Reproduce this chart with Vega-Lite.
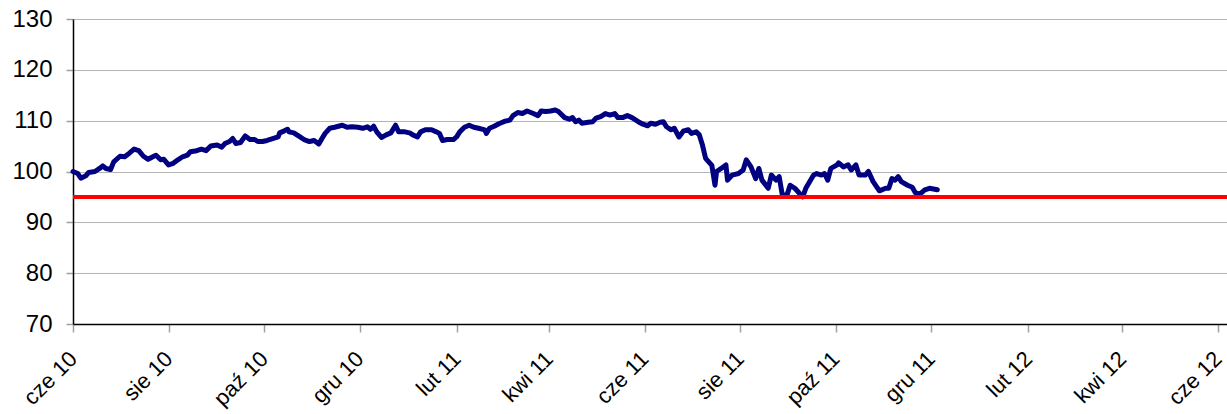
{
  "$schema": "https://vega.github.io/schema/vega-lite/v6.json",
  "autosize": "none",
  "width": 1154,
  "height": 305,
  "padding": {"left": 73, "top": 19, "right": 0, "bottom": 90},
  "background": "white",
  "config": {
    "view": {"stroke": null},
    "axis": {"labelFont": "Liberation Sans", "labelColor": "#000000", "titleFont": "Liberation Sans"}
  },
  "data": {"values": [
    {"date": "2010-06-01", "value": 100.0},
    {"date": "2010-06-04", "value": 99.6},
    {"date": "2010-06-06", "value": 98.7},
    {"date": "2010-06-09", "value": 99.1},
    {"date": "2010-06-11", "value": 99.8},
    {"date": "2010-06-15", "value": 100.0},
    {"date": "2010-06-18", "value": 100.6},
    {"date": "2010-06-20", "value": 101.1},
    {"date": "2010-06-22", "value": 100.6},
    {"date": "2010-06-25", "value": 100.4},
    {"date": "2010-06-27", "value": 101.9},
    {"date": "2010-07-01", "value": 103.0},
    {"date": "2010-07-04", "value": 102.9},
    {"date": "2010-07-07", "value": 103.6},
    {"date": "2010-07-10", "value": 104.4},
    {"date": "2010-07-13", "value": 104.1},
    {"date": "2010-07-16", "value": 103.0},
    {"date": "2010-07-19", "value": 102.4},
    {"date": "2010-07-22", "value": 102.9},
    {"date": "2010-07-24", "value": 103.2},
    {"date": "2010-07-27", "value": 102.3},
    {"date": "2010-07-29", "value": 102.4},
    {"date": "2010-08-01", "value": 101.3},
    {"date": "2010-08-04", "value": 101.6},
    {"date": "2010-08-07", "value": 102.3},
    {"date": "2010-08-10", "value": 102.9},
    {"date": "2010-08-13", "value": 103.2},
    {"date": "2010-08-15", "value": 103.9},
    {"date": "2010-08-19", "value": 104.1},
    {"date": "2010-08-22", "value": 104.4},
    {"date": "2010-08-25", "value": 104.1},
    {"date": "2010-08-28", "value": 105.0},
    {"date": "2010-09-01", "value": 105.2},
    {"date": "2010-09-04", "value": 104.8},
    {"date": "2010-09-06", "value": 105.5},
    {"date": "2010-09-09", "value": 105.9},
    {"date": "2010-09-11", "value": 106.5},
    {"date": "2010-09-13", "value": 105.5},
    {"date": "2010-09-16", "value": 105.7},
    {"date": "2010-09-19", "value": 107.0},
    {"date": "2010-09-22", "value": 106.3},
    {"date": "2010-09-25", "value": 106.3},
    {"date": "2010-09-27", "value": 105.9},
    {"date": "2010-09-30", "value": 105.9},
    {"date": "2010-10-03", "value": 106.1},
    {"date": "2010-10-07", "value": 106.5},
    {"date": "2010-10-10", "value": 106.8},
    {"date": "2010-10-11", "value": 107.6},
    {"date": "2010-10-14", "value": 108.0},
    {"date": "2010-10-16", "value": 108.3},
    {"date": "2010-10-17", "value": 107.8},
    {"date": "2010-10-20", "value": 107.6},
    {"date": "2010-10-24", "value": 106.8},
    {"date": "2010-10-27", "value": 106.2},
    {"date": "2010-10-30", "value": 105.9},
    {"date": "2010-11-02", "value": 106.1},
    {"date": "2010-11-05", "value": 105.4},
    {"date": "2010-11-07", "value": 106.5},
    {"date": "2010-11-09", "value": 107.5},
    {"date": "2010-11-12", "value": 108.5},
    {"date": "2010-11-15", "value": 108.7},
    {"date": "2010-11-20", "value": 109.1},
    {"date": "2010-11-23", "value": 108.7},
    {"date": "2010-11-26", "value": 108.8},
    {"date": "2010-11-30", "value": 108.7},
    {"date": "2010-12-03", "value": 108.5},
    {"date": "2010-12-06", "value": 108.8},
    {"date": "2010-12-08", "value": 108.3},
    {"date": "2010-12-10", "value": 108.9},
    {"date": "2010-12-12", "value": 107.8},
    {"date": "2010-12-15", "value": 106.7},
    {"date": "2010-12-18", "value": 107.2},
    {"date": "2010-12-21", "value": 107.6},
    {"date": "2010-12-24", "value": 109.1},
    {"date": "2010-12-26", "value": 107.8},
    {"date": "2010-12-30", "value": 107.8},
    {"date": "2011-01-02", "value": 107.6},
    {"date": "2011-01-04", "value": 107.2},
    {"date": "2011-01-07", "value": 106.8},
    {"date": "2011-01-09", "value": 107.8},
    {"date": "2011-01-12", "value": 108.2},
    {"date": "2011-01-16", "value": 108.2},
    {"date": "2011-01-19", "value": 107.8},
    {"date": "2011-01-21", "value": 107.5},
    {"date": "2011-01-23", "value": 106.1},
    {"date": "2011-01-26", "value": 106.3},
    {"date": "2011-01-30", "value": 106.3},
    {"date": "2011-02-01", "value": 106.8},
    {"date": "2011-02-03", "value": 107.8},
    {"date": "2011-02-06", "value": 108.7},
    {"date": "2011-02-09", "value": 109.1},
    {"date": "2011-02-12", "value": 108.7},
    {"date": "2011-02-15", "value": 108.5},
    {"date": "2011-02-19", "value": 108.2},
    {"date": "2011-02-20", "value": 107.5},
    {"date": "2011-02-22", "value": 108.5},
    {"date": "2011-02-25", "value": 108.9},
    {"date": "2011-02-28", "value": 109.4},
    {"date": "2011-03-04", "value": 109.9},
    {"date": "2011-03-07", "value": 110.1},
    {"date": "2011-03-09", "value": 111.0},
    {"date": "2011-03-12", "value": 111.6},
    {"date": "2011-03-15", "value": 111.4},
    {"date": "2011-03-18", "value": 111.9},
    {"date": "2011-03-22", "value": 111.4},
    {"date": "2011-03-25", "value": 111.0},
    {"date": "2011-03-27", "value": 111.9},
    {"date": "2011-03-30", "value": 111.8},
    {"date": "2011-04-02", "value": 111.9},
    {"date": "2011-04-05", "value": 112.1},
    {"date": "2011-04-07", "value": 111.8},
    {"date": "2011-04-11", "value": 110.6},
    {"date": "2011-04-14", "value": 110.3},
    {"date": "2011-04-16", "value": 110.6},
    {"date": "2011-04-18", "value": 109.8},
    {"date": "2011-04-20", "value": 110.1},
    {"date": "2011-04-22", "value": 109.5},
    {"date": "2011-04-26", "value": 109.7},
    {"date": "2011-04-29", "value": 109.8},
    {"date": "2011-05-01", "value": 110.5},
    {"date": "2011-05-04", "value": 110.8},
    {"date": "2011-05-07", "value": 111.4},
    {"date": "2011-05-10", "value": 111.1},
    {"date": "2011-05-13", "value": 111.4},
    {"date": "2011-05-15", "value": 110.6},
    {"date": "2011-05-18", "value": 110.6},
    {"date": "2011-05-21", "value": 111.0},
    {"date": "2011-05-24", "value": 110.6},
    {"date": "2011-05-28", "value": 109.8},
    {"date": "2011-05-31", "value": 109.3},
    {"date": "2011-06-03", "value": 109.0},
    {"date": "2011-06-05", "value": 109.5},
    {"date": "2011-06-08", "value": 109.3},
    {"date": "2011-06-11", "value": 109.7},
    {"date": "2011-06-13", "value": 109.8},
    {"date": "2011-06-15", "value": 108.8},
    {"date": "2011-06-18", "value": 108.2},
    {"date": "2011-06-20", "value": 108.5},
    {"date": "2011-06-23", "value": 106.8},
    {"date": "2011-06-26", "value": 108.0},
    {"date": "2011-06-29", "value": 108.2},
    {"date": "2011-07-01", "value": 107.5},
    {"date": "2011-07-04", "value": 107.8},
    {"date": "2011-07-06", "value": 107.2},
    {"date": "2011-07-08", "value": 105.2},
    {"date": "2011-07-10", "value": 102.6},
    {"date": "2011-07-14", "value": 101.2},
    {"date": "2011-07-16", "value": 97.3},
    {"date": "2011-07-17", "value": 100.0},
    {"date": "2011-07-20", "value": 100.6},
    {"date": "2011-07-23", "value": 101.3},
    {"date": "2011-07-24", "value": 98.3},
    {"date": "2011-07-27", "value": 99.3},
    {"date": "2011-07-31", "value": 99.6},
    {"date": "2011-08-03", "value": 100.3},
    {"date": "2011-08-05", "value": 102.3},
    {"date": "2011-08-08", "value": 100.9},
    {"date": "2011-08-11", "value": 98.6},
    {"date": "2011-08-13", "value": 100.6},
    {"date": "2011-08-15", "value": 98.3},
    {"date": "2011-08-19", "value": 96.7},
    {"date": "2011-08-21", "value": 99.3},
    {"date": "2011-08-24", "value": 98.3},
    {"date": "2011-08-26", "value": 99.0},
    {"date": "2011-08-28", "value": 95.4},
    {"date": "2011-08-31", "value": 95.4},
    {"date": "2011-09-02", "value": 97.3},
    {"date": "2011-09-05", "value": 96.7},
    {"date": "2011-09-10", "value": 95.0},
    {"date": "2011-09-12", "value": 96.7},
    {"date": "2011-09-17", "value": 99.3},
    {"date": "2011-09-19", "value": 99.6},
    {"date": "2011-09-22", "value": 99.3},
    {"date": "2011-09-24", "value": 99.6},
    {"date": "2011-09-26", "value": 98.3},
    {"date": "2011-09-28", "value": 100.6},
    {"date": "2011-10-02", "value": 101.3},
    {"date": "2011-10-03", "value": 101.7},
    {"date": "2011-10-06", "value": 100.9},
    {"date": "2011-10-09", "value": 101.3},
    {"date": "2011-10-11", "value": 100.3},
    {"date": "2011-10-14", "value": 101.3},
    {"date": "2011-10-16", "value": 99.3},
    {"date": "2011-10-20", "value": 99.3},
    {"date": "2011-10-22", "value": 100.0},
    {"date": "2011-10-25", "value": 98.0},
    {"date": "2011-10-29", "value": 96.2},
    {"date": "2011-11-02", "value": 96.7},
    {"date": "2011-11-04", "value": 96.7},
    {"date": "2011-11-06", "value": 98.6},
    {"date": "2011-11-08", "value": 98.3},
    {"date": "2011-11-10", "value": 99.0},
    {"date": "2011-11-12", "value": 98.0},
    {"date": "2011-11-16", "value": 97.3},
    {"date": "2011-11-19", "value": 96.9},
    {"date": "2011-11-21", "value": 95.8},
    {"date": "2011-11-24", "value": 95.6},
    {"date": "2011-11-27", "value": 96.4},
    {"date": "2011-11-30", "value": 96.7},
    {"date": "2011-12-05", "value": 96.4}
  ]},
  "layer": [
    {
      "mark": {"type": "line", "color": "#000080", "strokeWidth": 5, "strokeJoin": "round", "strokeCap": "round"},
      "encoding": {
        "x": {
          "field": "date", "type": "temporal",
          "scale": {"domain": [{"year": 2010, "month": 6, "date": 1, "utc": true}, {"year": 2012, "month": 6, "date": 7, "utc": true}]},
          "axis": {
            "title": null,
            "values": [
              {"year": 2010, "month": 6, "date": 1, "utc": true},
              {"year": 2010, "month": 8, "date": 1, "utc": true},
              {"year": 2010, "month": 10, "date": 1, "utc": true},
              {"year": 2010, "month": 12, "date": 1, "utc": true},
              {"year": 2011, "month": 2, "date": 1, "utc": true},
              {"year": 2011, "month": 4, "date": 1, "utc": true},
              {"year": 2011, "month": 6, "date": 1, "utc": true},
              {"year": 2011, "month": 8, "date": 1, "utc": true},
              {"year": 2011, "month": 10, "date": 1, "utc": true},
              {"year": 2011, "month": 12, "date": 1, "utc": true},
              {"year": 2012, "month": 2, "date": 1, "utc": true},
              {"year": 2012, "month": 4, "date": 1, "utc": true},
              {"year": 2012, "month": 6, "date": 1, "utc": true}
            ],
            "labelExpr": "['sty','lut','mar','kwi','maj','cze','lip','sie','wrz','paź','lis','gru'][utcmonth(datum.value)] + ' ' + utcFormat(datum.value, '%y')",
            "labelAngle": -45,
            "labelAlign": "right",
            "labelBaseline": "middle",
            "labelFontSize": 22,
            "labelPadding": 23,
            "labelOverlap": false,
            "labelBound": false,
            "labelFlush": false,
            "grid": false,
            "domainColor": "#000000",
            "domainWidth": 1.5,
            "tickColor": "#a0a0a0",
            "tickSize": 8,
            "tickWidth": 1.5
          }
        },
        "y": {
          "field": "value", "type": "quantitative",
          "scale": {"domain": [70, 130], "nice": false, "zero": false},
          "axis": {
            "title": null,
            "values": [70, 80, 90, 100, 110, 120, 130],
            "labelFontSize": 24,
            "labelPadding": 14,
            "grid": true,
            "gridColor": "#b4b4b4",
            "gridWidth": 1.2,
            "domainColor": "#000000",
            "domainWidth": 1.5,
            "tickColor": "#a0a0a0",
            "tickSize": 7,
            "tickWidth": 1.5
          }
        }
      }
    },
    {
      "mark": {"type": "rule", "color": "#ff0000", "strokeWidth": 4},
      "encoding": {"y": {"datum": 95}}
    }
  ]
}
